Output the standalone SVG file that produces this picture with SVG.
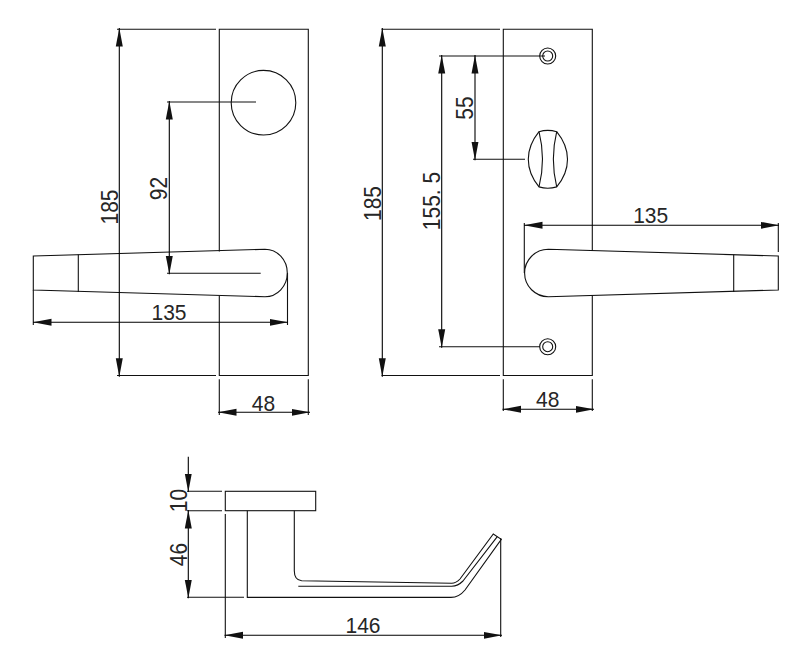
<svg xmlns="http://www.w3.org/2000/svg" width="793" height="666" viewBox="0 0 793 666">
<style>
.l{fill:none;stroke:#111;stroke-width:1.1}
.d{fill:none;stroke:#000;stroke-width:1.1;marker-start:url(#a);marker-end:url(#a)}
.e{fill:none;stroke:#000;stroke-width:1.1;marker-end:url(#a)}
text{font-family:"Liberation Sans",Arial,sans-serif;font-size:21px;fill:#262626;text-anchor:middle}
</style>
<defs>
<marker id="a" markerUnits="userSpaceOnUse" markerWidth="19" markerHeight="8" viewBox="0 -4 19 8" refX="18.5" refY="0" orient="auto-start-reverse"><path d="M0,-3.5L18.5,0L0,3.5Z" fill="#111"/></marker>
</defs>
<rect width="793" height="666" fill="#fff"/>
<g id="view-left">
<path class="l" d="M219.3,251.5V29.3H308.3V375.5H219.3V296"/>
<circle class="l" cx="263.5" cy="102.7" r="32.3"/>
<path class="l" d="M33.3,256L265,249.3A22.3,23.7 0 0 1 265,296.7L33.3,290Z"/>
<path class="l" d="M78.3,254.6V292"/>
</g>
<g id="view-right">
<path class="l" d="M592.3,251V29.3H503.3V375.5H592.3V295"/>
<circle class="l" cx="547.7" cy="56" r="8"/>
<circle class="l" cx="547.7" cy="56" r="5"/>
<circle class="l" cx="547.7" cy="346.7" r="8"/>
<circle class="l" cx="547.7" cy="346.7" r="5"/>
<path class="l" d="M539,131.7Q547.7,129 556.7,131.7Q567.5,145 567.5,159.3Q567.5,174 556.7,186.9Q547.7,189.5 539,186.9Q528.3,174 528.3,159.3Q528.3,145 539,131.7Z"/>
<path class="l" d="M539,131.7Q546,159.3 539,186.9M556.7,131.7Q550,159.3 556.7,186.9"/>
<path class="l" d="M778.3,256L548.3,249.3A23.7,23.7 0 0 0 548.3,296.7L778.3,290Z"/>
<path class="l" d="M733.7,254.6V292"/>
</g>
<g id="view-side">
<rect class="l" x="225.3" y="491.3" width="90.4" height="19.4"/>
<path class="l" d="M247.3,510.7V597.4H451Q459,597.4 465,590L501.3,539.3L493.3,534L460,579Q456,583.3 451.7,583.3L301.7,580.7Q294.3,580 294.3,570.7V510.7"/>
<path class="l" d="M298.3,586.3H451.7Q458,586 463,581L497.3,536.7"/>
</g>
<g id="connectors">
<path class="l" d="M117,29.3H216M117,375.5H216M167,102H256M167,273.3H260.7M33.3,290V325M287.5,273V325M219.3,379.3V415M308.3,379.3V415"/>
<path class="d" d="M119.3,28V376.7"/>
<path class="d" d="M169.3,101V274.3"/>
<path class="d" d="M33,322.3H288"/>
<path class="d" d="M218,412.3H310"/>
<path class="l" d="M381.5,29.3H500M381.5,375.5H500M439,56H545M439,346.7H540M473,159.3H525M524.3,223V273M778.3,223V252M503.3,379.3V411M592.3,379.3V411"/>
<path class="d" d="M382.3,28V376.7"/>
<path class="d" d="M441.7,55V347.7"/>
<path class="d" d="M475,55V160.3"/>
<path class="d" d="M524,225.3H779"/>
<path class="d" d="M502.5,409.3H594"/>
<path class="l" d="M187,491.3H222M187,510.7H222M187,597.3H244M225.3,514V638M500.7,538V637"/>
<path class="e" d="M188.3,456.7V492"/>
<path class="d" d="M188.3,510V598.3"/>
<path class="d" d="M224.5,635.3H502"/>
</g>
<g id="labels">
<text transform="translate(169,320) scale(1,1.08)">135</text>
<text transform="translate(263.5,411) scale(1,1.08)">48</text>
<text transform="translate(118,207) rotate(-90) scale(1,1.12)">185</text>
<text transform="translate(167,188.5) rotate(-90) scale(1,1.12)">92</text>
<text transform="translate(380.5,203.5) rotate(-90) scale(1,1.12)">185</text>
<text transform="translate(440,201) rotate(-90) scale(1,1.12)">155. 5</text>
<text transform="translate(472.5,108) rotate(-90) scale(1,1.12)">55</text>
<text transform="translate(650.7,222.5) scale(1,1.08)">135</text>
<text transform="translate(547.7,407) scale(1,1.08)">48</text>
<text transform="translate(186.7,500.5) rotate(-90) scale(1,1.12)">10</text>
<text transform="translate(186.7,554.5) rotate(-90) scale(1,1.15)">46</text>
<text transform="translate(363,633) scale(1,1.08)">146</text>
</g>
</svg>
